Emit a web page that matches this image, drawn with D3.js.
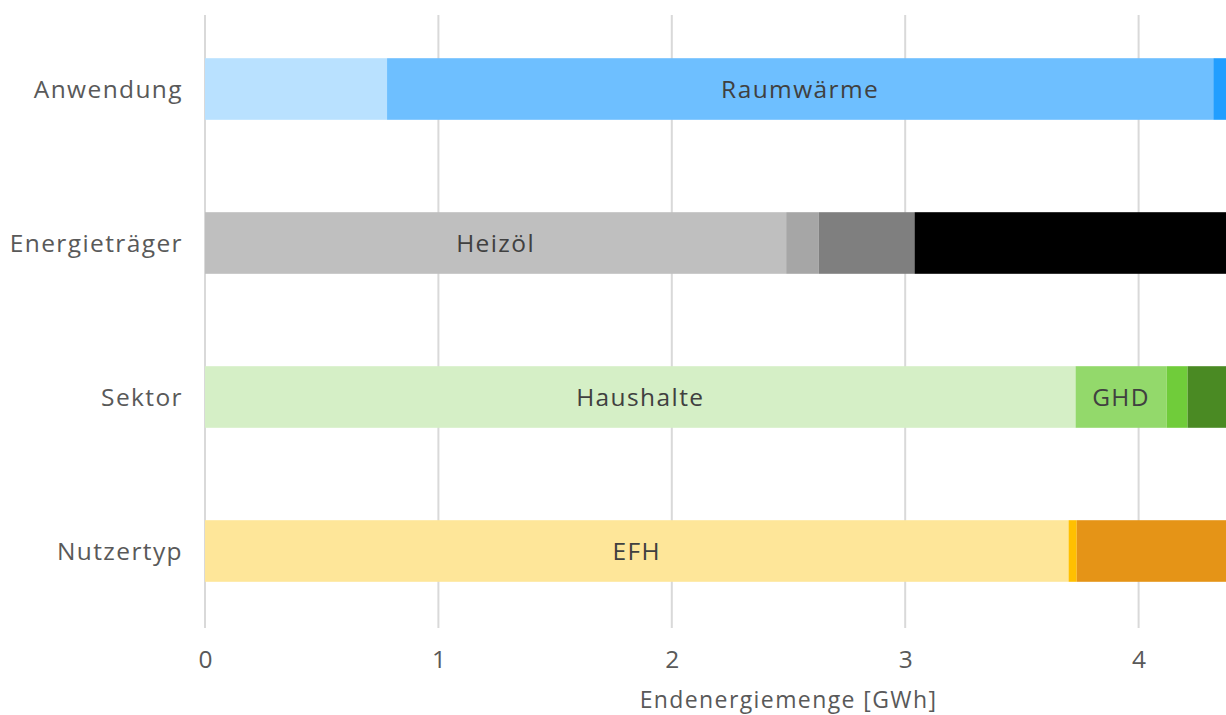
<!DOCTYPE html>
<html>
<head>
<meta charset="utf-8">
<script src="https://cdn.jsdelivr.net/npm/d3@7"></script>
<style>
    body { margin: 0; background: #fff; }
    svg { display: block; }
    text { font-family: "Open Sans", sans-serif; }
</style>
</head>
<body>
<svg width="1226" height="715"></svg>
<script>
"use strict"

const categories = ["Anwendung", "Energieträger", "Sektor", "Nutzertyp"]

// segment values per category (GWh), left to right
const anwendungValues = [0.78, 3.54, 0.28]
const energietraegerValues = [2.49, 0.14, 0.41, 1.56]
const sektorValues = [3.73, 0.39, 0.09, 0.39]
const nutzertypValues = [3.7, 0.035, 0.865]

const anwendungLabels = ["", "Raumwärme", ""]
const energietraegerLabels = ["Heizöl", "", "", ""]
const sektorLabels = ["Haushalte", "GHD", "", ""]
const nutzertypLabels = ["EFH", "", ""]

const anwendungColors = ["#b9e1ff", "#6ebfff", "#219eff"]
const energietraegerColors = ["#bfbfbf", "#a6a6a6", "#7f7f7f", "#000000"]
const sektorColors = ["#d5efc6", "#93d96b", "#70cc3a", "#4a8a23"]
const nutzertypColors = ["#fee699", "#ffc000", "#e59417"]

const xTicks = [0, 1, 2, 3, 4]

const rows = [
    { name: categories[0], values: anwendungValues, labels: anwendungLabels, colors: anwendungColors },
    { name: categories[1], values: energietraegerValues, labels: energietraegerLabels, colors: energietraegerColors },
    { name: categories[2], values: sektorValues, labels: sektorLabels, colors: sektorColors },
    { name: categories[3], values: nutzertypValues, labels: nutzertypLabels, colors: nutzertypColors }
]

const svg = d3.select("svg")

const x = d3.scaleLinear().domain([0, 5]).range([205, 1372])
const y = d3.scaleBand().domain(categories).range([12, 628]).paddingInner(0.6).paddingOuter(0.3)

const TEXT_COLOR = "#595959"
const FONT_SIZE = "24.5px"
const SPACING = "1.4px"

// vertical grid
svg.append("g")
    .selectAll("line")
    .data(xTicks)
    .join("line")
    .attr("x1", (d) => x(d))
    .attr("x2", (d) => x(d))
    .attr("y1", 15)
    .attr("y2", 628)
    .attr("stroke", "#d9d9d9")
    .attr("stroke-width", 2)

// bars
rows.forEach((row) => {
    let start = 0
    const segs = row.values.map((v, i) => {
        const s = { x0: start, x1: start + v, label: row.labels[i], color: row.colors[i] }
        start += v
        return s
    })
    const g = svg.append("g")
    g.selectAll("rect")
        .data(segs)
        .join("rect")
        .attr("x", (d) => x(d.x0))
        .attr("width", (d) => x(d.x1) - x(d.x0))
        .attr("y", y(row.name))
        .attr("height", y.bandwidth())
        .attr("fill", (d) => d.color)
    g.selectAll("text")
        .data(segs.filter((d) => d.label))
        .join("text")
        .attr("x", (d) => (x(d.x0) + x(d.x1)) / 2)
        .attr("y", y(row.name) + y.bandwidth() / 2)
        .attr("dy", "0.35em")
        .attr("text-anchor", "middle")
        .attr("font-size", FONT_SIZE)
        .attr("letter-spacing", SPACING)
        .attr("fill", "#404040")
        .text((d) => d.label)
})

// category labels
svg.append("g")
    .selectAll("text")
    .data(categories)
    .join("text")
    .attr("x", 183)
    .attr("y", (d) => y(d) + y.bandwidth() / 2)
    .attr("dy", "0.35em")
    .attr("text-anchor", "end")
    .attr("font-size", FONT_SIZE)
    .attr("letter-spacing", SPACING)
    .attr("fill", TEXT_COLOR)
    .text((d) => d)

// x axis
const xAxis = svg.append("g")
    .attr("transform", "translate(0,651)")
    .call(d3.axisBottom(x).tickValues(xTicks).tickSize(0).tickPadding(0).tickFormat(d3.format("d")))
xAxis.select(".domain").remove()
xAxis.selectAll("text")
    .attr("font-family", "Open Sans, sans-serif")
    .attr("font-size", FONT_SIZE)
    .attr("fill", TEXT_COLOR)

svg.append("text")
    .attr("x", (x.range()[0] + x.range()[1]) / 2)
    .attr("y", 708)
    .attr("text-anchor", "middle")
    .attr("font-size", "23px")
    .attr("letter-spacing", SPACING)
    .attr("fill", TEXT_COLOR)
    .text("Endenergiemenge [GWh]")
</script>
</body>
</html>
